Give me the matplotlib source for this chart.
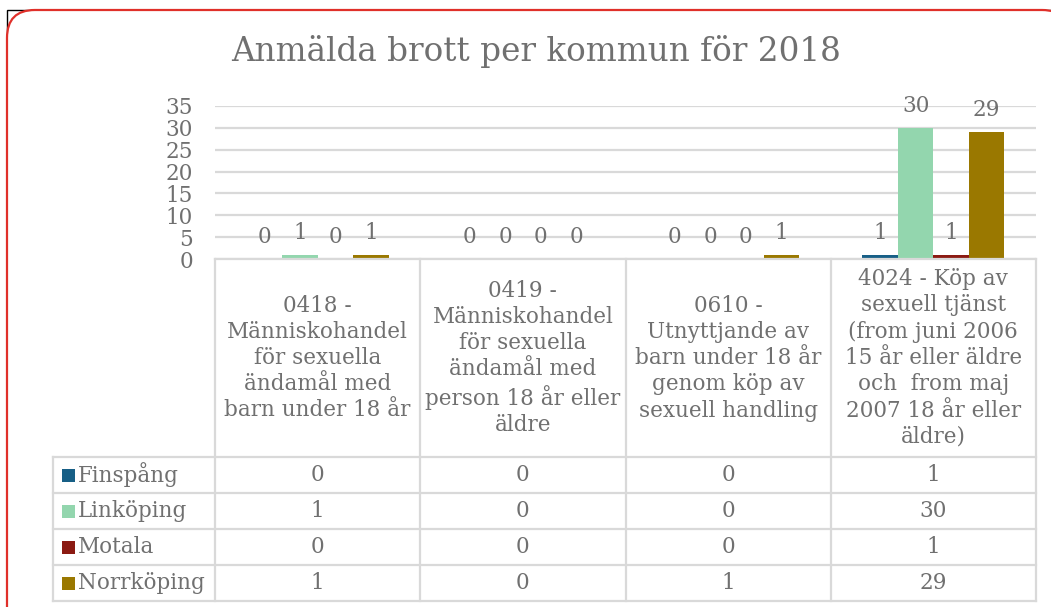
import matplotlib.pyplot as plt
from matplotlib.patches import FancyBboxPatch, Rectangle
from matplotlib.lines import Line2D
import numpy as np

# data
categories = [
    "0418 -\nMänniskohandel\nför sexuella\nändamål med\nbarn under 18 år",
    "0419 -\nMänniskohandel\nför sexuella\nändamål med\nperson 18 år eller\näldre",
    "0610 -\nUtnyttjande av\nbarn under 18 år\ngenom köp av\nsexuell handling",
    "4024 - Köp av\nsexuell tjänst\n(from juni 2006\n15 år eller äldre\noch  from maj\n2007 18 år eller\näldre)",
]
kommuner = ["Finspång", "Linköping", "Motala", "Norrköping"]
finspang = [0, 0, 0, 1]
linkoping = [1, 0, 0, 30]
motala = [0, 0, 0, 1]
norrkoping = [1, 0, 1, 29]
series = [finspang, linkoping, motala, norrkoping]
colors = ["#175f86", "#93d6ae", "#8b1a12", "#9a7800"]
yticks = [0, 5, 10, 15, 20, 25, 30, 35]

W, H = 1051, 607
txt = "#707070"
grid = "#d9d9d9"
font = "DejaVu Serif"
fs = 15.5

fig = plt.figure(figsize=(W / 100, H / 100), dpi=100)
fig.patch.set_facecolor("white")

def fx(x):
    return x / W

def fy(y):
    return 1 - y / H

# frame
fig.add_artist(Rectangle((fx(7), fy(640)), fx(1100), 630 / H, transform=fig.transFigure,
                         facecolor="none", edgecolor="black", lw=1, zorder=-10))
fig.add_artist(FancyBboxPatch((7, -30), 1043 + 20, 607 + 30 - 10, transform=None,
                              boxstyle="round,pad=0,rounding_size=28",
                              facecolor="white", edgecolor="#e0302a", lw=1.6, zorder=-9))

# plot area
left, right, top, bottom = 215, 1036, 106, 259
ax = fig.add_axes([fx(left), fy(bottom), fx(right - left), (bottom - top) / H])
ax.set_facecolor("none")
ax.set_xlim(-0.5, 3.5)
ax.set_ylim(0, 35)
ax.set_yticks(yticks)
ax.set_yticklabels([str(t) for t in yticks], fontsize=fs, color=txt, family=font)
ax.tick_params(axis="y", length=0, pad=16)
ax.set_xticks([])
for s in ax.spines.values():
    s.set_visible(False)
ax.grid(axis="y", color=grid, lw=1.6)
ax.set_axisbelow(True)

x = np.arange(len(categories))
bw = 0.173
for i, (vals, c) in enumerate(zip(series, colors)):
    pos = x + (i - 1.5) * bw
    bars = ax.bar(pos, vals, bw, color=c, zorder=3)
    for b, v in zip(bars, vals):
        ax.annotate(str(v), (b.get_x() + b.get_width() / 2, v), xytext=(0, 8),
                    textcoords="offset points", ha="center", va="bottom",
                    fontsize=fs, color=txt, family=font)

# title
fig.text(fx(536), fy(52), "Anmälda brott per kommun för 2018", ha="center", va="center",
         fontsize=23.5, color=txt, family=font)

# data table
col_edges = [ax.transData.transform((xi - 0.5, 0))[0] for xi in list(x) + [len(x)]]
header_top, header_bot = 259, 457
row_h = 36
legend_left = 53
rows_y = [header_bot + row_h * i for i in range(len(kommuner) + 1)]

def hline(y, x0, x1):
    fig.add_artist(Line2D([fx(x0), fx(x1)], [fy(y), fy(y)], color=grid, lw=1.6,
                          transform=fig.transFigure))

def vline(xp, y0, y1):
    fig.add_artist(Line2D([fx(xp), fx(xp)], [fy(y0), fy(y1)], color=grid, lw=1.6,
                          transform=fig.transFigure))

hline(header_top, col_edges[0], col_edges[-1])
for y in rows_y:
    hline(y, legend_left, col_edges[-1])
for e in col_edges:
    vline(e, header_top, rows_y[-1])
vline(legend_left, header_bot, rows_y[-1])

for i, cat in enumerate(categories):
    cx = (col_edges[i] + col_edges[i + 1]) / 2
    fig.text(fx(cx), fy((header_top + header_bot) / 2), cat, ha="center", va="center",
             multialignment="center", fontsize=fs, color=txt, family=font, linespacing=1.25)

for r, (name, vals, c) in enumerate(zip(kommuner, series, colors)):
    cy = (rows_y[r] + rows_y[r + 1]) / 2
    fig.add_artist(Rectangle((fx(62), fy(cy + 6.5)), fx(13), 13 / H, transform=fig.transFigure,
                             facecolor=c, edgecolor="none"))
    fig.text(fx(78), fy(cy), name, ha="left", va="center", fontsize=fs, color=txt, family=font)
    for i, v in enumerate(vals):
        cx = (col_edges[i] + col_edges[i + 1]) / 2
        fig.text(fx(cx), fy(cy), str(v), ha="center", va="center", fontsize=fs,
                 color=txt, family=font)

fig.savefig("out.png", dpi=100)
